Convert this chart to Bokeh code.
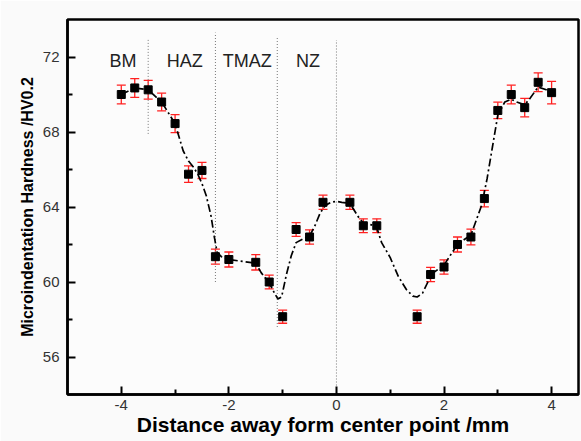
from bokeh.plotting import figure
from bokeh.models import Range1d, FixedTicker, ColumnDataSource, Whisker, TeeHead
from bokeh.core.properties import value
from bokeh.embed import file_html
from bokeh.resources import INLINE

# measured points
pos = [-4.0, -3.75, -3.5, -3.25, -3.0, -2.75, -2.5, -2.25, -2.0, -1.5, -1.25, -1.0, -0.75, -0.5,
       -0.25, 0.25, 0.5, 0.75, 1.5, 1.75, 2.0, 2.25, 2.5, 2.75, 3.0, 3.25, 3.5, 3.75, 4.0]
hard = [70.0, 70.35, 70.25, 69.6, 68.45, 65.75, 65.95, 61.35, 61.2, 61.05, 60.0, 58.15, 62.8, 62.4,
        64.25, 64.25, 63.0, 63.0, 58.15, 60.4, 60.8, 62.0, 62.4, 64.45, 69.15, 70.0, 69.3, 70.65, 70.1]
err = [0.5, 0.5, 0.5, 0.47, 0.48, 0.44, 0.43, 0.4, 0.4, 0.41, 0.37, 0.35, 0.37, 0.38,
       0.38, 0.38, 0.37, 0.37, 0.35, 0.38, 0.38, 0.4, 0.42, 0.44, 0.44, 0.5, 0.49, 0.5, 0.6]

# fitted trend curve
curve_x = [-4.0, -3.75, -3.5, -3.25, -3.0, -2.85, -2.75, -2.65, -2.57, -2.5, -2.42, -2.33, -2.27, -2.22,
           -2.14, -2.0, -1.75, -1.5, -1.4, -1.25, -1.15, -1.09, -1.02, -0.93, -0.84, -0.75, -0.62, -0.5,
           -0.4, -0.3, -0.2, -0.1, 0.0, 0.1, 0.25, 0.4, 0.5, 0.65, 0.75, 0.84, 1.0, 1.15, 1.3, 1.42, 1.5,
           1.6, 1.7, 1.78, 1.9, 2.0, 2.1, 2.25, 2.37, 2.5, 2.6, 2.7, 2.8, 2.9, 3.0, 3.13, 3.25, 3.35, 3.5,
           3.6, 3.75, 3.9, 4.0]
curve_y = [70.0, 70.35, 70.25, 69.6, 68.45, 67.0, 66.45, 66.1, 65.7, 65.25, 64.6, 63.5, 62.4, 61.6,
           61.35, 61.2, 61.1, 61.0, 60.5, 59.95, 59.4, 59.1, 59.2, 60.4, 61.4, 62.1, 62.3, 62.45,
           63.0, 63.7, 64.1, 64.25, 64.3, 64.25, 64.2, 63.5, 63.15, 63.05, 62.9, 62.1, 61.3, 60.3, 59.6, 59.25, 59.2,
           59.4, 60.0, 60.45, 60.7, 60.9, 61.35, 62.0, 62.25, 62.5, 63.3, 64.1, 65.5, 67.2, 68.9, 69.6, 69.75, 69.6, 69.45,
           69.8, 70.4, 70.25, 70.1]

# zone boundaries
bound_x = [-3.5, -2.25, -1.1, 0.0]
bound_top = [73.0, 73.3, 73.1, 72.9]
bound_bot = [67.9, 60.0, 57.6, 54.0]

zone_names = ["BM", "HAZ", "TMAZ", "NZ"]
zone_x = [-3.97, -2.82, -1.66, -0.53]
zone_y = [71.8, 71.8, 71.8, 71.8]

x_ticks = [-4, -2, 0, 2, 4]
x_minor = [-3, -1, 1, 3]
y_ticks = [56, 60, 64, 68, 72]
y_minor = [58, 62, 66, 70]

p = figure(width=581, height=441, output_backend="svg", toolbar_location=None,
           x_range=Range1d(-5, 4.5), y_range=Range1d(54, 74),
           min_border_left=67, min_border_right=3, min_border_top=19, min_border_bottom=47)
p.background_fill_color = "#fcfcfc"
p.border_fill_color = "#fafafa"
p.outline_line_color = "black"
p.outline_line_width = 2.5
p.grid.visible = False

p.segment(x0=bound_x, y0=bound_bot, x1=bound_x, y1=bound_top, line_color="#777777",
          line_width=1, line_dash="1 2")

p.line(curve_x, curve_y, line_color="black", line_width=1.7, line_dash="8 3 2 3")

src = ColumnDataSource(dict(x=pos, y=hard, lo=[h - e for h, e in zip(hard, err)],
                            hi=[h + e for h, e in zip(hard, err)]))
w = Whisker(base="x", lower="lo", upper="hi", source=src, line_color="#ff2020", line_width=1.3,
            upper_head=TeeHead(size=9, line_color="#ff2020", line_width=1.3),
            lower_head=TeeHead(size=9, line_color="#ff2020", line_width=1.3))
p.add_layout(w)
p.scatter("x", "y", source=src, marker="square", size=8, fill_color="black", line_color="black")

p.text(x=zone_x, y=zone_y, text=zone_names, text_align="center", text_baseline="alphabetic",
       text_font=value("Liberation Sans"), text_font_size="18px", text_color="#222222")

for ax in (p.xaxis[0], p.yaxis[0]):
    ax.axis_line_width = 2.5
    ax.axis_line_color = "black"
    ax.major_tick_in = 8
    ax.major_tick_out = 0
    ax.minor_tick_in = 5
    ax.minor_tick_out = 0
    ax.major_tick_line_width = 2
    ax.minor_tick_line_width = 2
    ax.major_label_text_font = "Liberation Sans"
    ax.major_label_text_font_size = "15px"
    ax.major_label_text_color = "#333333"
    ax.axis_label_text_font = "Liberation Sans"
    ax.axis_label_text_font_style = "bold"
    ax.axis_label_text_color = "black"

p.xaxis[0].ticker = FixedTicker(ticks=x_ticks, minor_ticks=x_minor)
p.yaxis[0].ticker = FixedTicker(ticks=y_ticks, minor_ticks=y_minor)
p.xaxis[0].major_label_overrides = {t: str(t) for t in x_ticks}
p.xaxis[0].axis_label = "Distance away form center point /mm"
p.yaxis[0].axis_label = "Microindentation Hardness /HV0.2"
p.xaxis[0].axis_label_text_font_size = "21px"
p.yaxis[0].axis_label_text_font_size = "16px"
p.xaxis[0].major_label_standoff = 5
p.xaxis[0].axis_label_standoff = 0
p.yaxis[0].major_label_standoff = 8
p.yaxis[0].axis_label_standoff = 4

open("out.html", "w").write(file_html(p, INLINE))
